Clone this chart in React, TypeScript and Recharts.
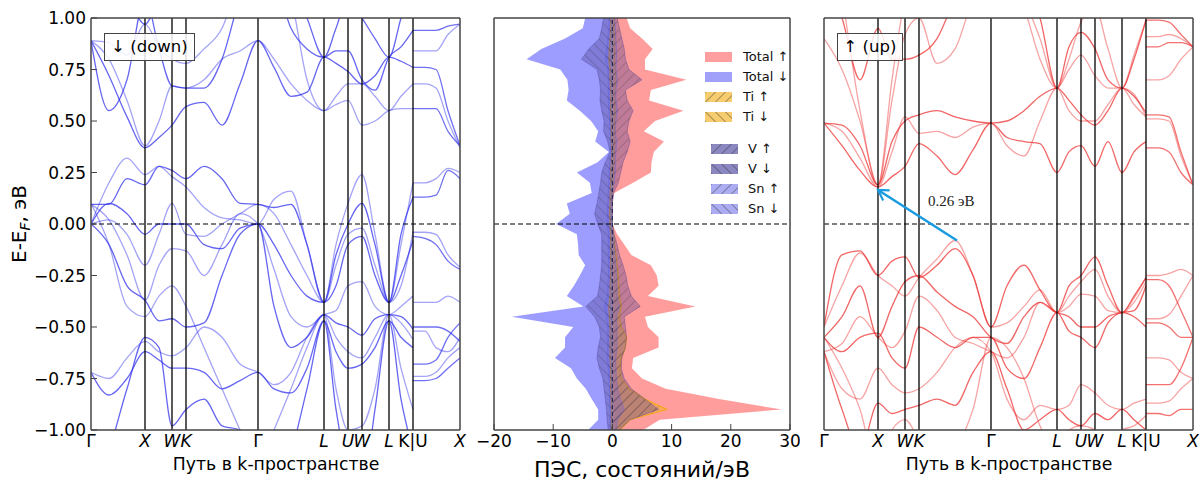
import React from "react";
import { Area, ComposedChart, Line, LineChart, ReferenceLine, XAxis, YAxis } from "recharts";

// k-path (in panel units) and labels
const kGrid = [0, 18, 36, 54, 68, 81, 95, 113, 131, 149, 167, 183, 200, 216, 233, 245, 257, 271, 284, 298, 310, 322];
const kGridUX = [322, 334, 345, 357, 369];
const kTicks = [0, 54, 81, 95, 167, 233, 257, 271, 298, 322, 369];
const kLabels = ["Γ", "X", "W", "K", "Γ", "L", "U", "W", "L", "K|U", "X"];
const energyTicks = [-1, -0.75, -0.5, -0.25, 0, 0.25, 0.5, 0.75, 1];

// spin down bands, Γ-X-W-K-Γ-L-U-W-L-K
const downBands = [
  [0.89, 0.72, 0.52, 0.37, 0.42, 0.48, 0.57, 0.59, 0.48, 0.68, 0.89, 0.76, 0.62, 0.64, 0.81, 0.78, 0.74, 0.68, 0.72, 0.81, 0.79, 0.76],
  [0.89, 0.8, 0.6, 0.38, 0.5, 0.67, 0.66, 0.7, 0.8, 0.84, 0.89, 0.8, 0.68, 0.6, 0.55, 0.58, 0.6, 0.48, 0.5, 0.55, 0.56, 0.56],
  [0.89, 0.55, 0.7, 1.1, 0.85, 0.67, 0.66, 0.66, 0.8, 1.1, 1.3, 1.2, 0.95, 0.85, 0.81, 0.84, 0.84, 0.7, 0.65, 0.81, 0.86, 0.94],
  [0.89, 0.88, 0.82, 0.97, 0.86, 0.8, 0.78, 0.85, 0.95, 1.2, 1.4, 1.3, 1.1, 0.7, 0.55, 0.62, 0.68, 0.68, 0.62, 0.55, 0.62, 0.68],
  [1.3, 1.2, 1.1, 0.97, 1.1, 1.2, 1.3, 1.4, 1.5, 1.5, 1.5, 1.4, 1.2, 1.0, 0.81, 0.95, 1.1, 1.0, 0.9, 0.81, 1.0, 1.2],
  [0.0, 0.2, 0.32, 0.24, 0.28, 0.23, 0.18, 0.08, 0.03, 0.02, 0.0, 0.12, 0.16, -0.1, -0.38, -0.1, 0.1, 0.24, -0.05, -0.38, -0.1, 0.2],
  [0.095, 0.095, 0.22, 0.19, 0.28, 0.26, 0.22, 0.28, 0.22, 0.1, 0.095, 0.08, 0.095, -0.1, -0.38, -0.15, 0.0, 0.1, -0.1, -0.38, -0.05, 0.13],
  [0.0, 0.02, -0.05, -0.2, -0.05, 0.1, -0.05, -0.06, 0.0, 0.05, 0.095, 0.05, -0.1, -0.25, -0.38, -0.2, -0.05, -0.02, -0.2, -0.38, -0.3, -0.04],
  [0.0, 0.1, 0.05, -0.05, 0.0, 0.0, 0.0, -0.1, -0.12, -0.02, 0.0, -0.1, -0.25, -0.35, -0.38, -0.3, -0.1, -0.06, -0.25, -0.38, -0.25, -0.08],
  [0.095, 0.02, -0.15, -0.37, -0.2, -0.12, -0.13, -0.25, -0.1, 0.05, 0.0, -0.22, -0.45, -0.5, -0.44, -0.42, -0.3, -0.28, -0.4, -0.44, -0.4, -0.35],
  [0.0, -0.1, -0.3, -0.37, -0.47, -0.46, -0.5, -0.48, -0.25, -0.05, 0.0, -0.4, -0.6, -0.55, -0.44, -0.48, -0.5, -0.54, -0.46, -0.44, -0.45, -0.51],
  [-0.72, -0.75, -0.65, -0.57, -0.62, -0.64, -0.6, -0.5, -0.55, -0.68, -0.72, -0.78, -0.72, -0.55, -0.44, -0.55, -0.62, -0.65, -0.55, -0.44, -0.48, -0.56],
  [-0.72, -0.83, -0.75, -0.62, -0.66, -0.7, -0.7, -0.72, -0.8, -0.76, -0.72, -0.8, -0.82, -0.7, -0.47, -0.62, -0.7, -0.68, -0.6, -0.47, -0.55, -0.6],
  [0.1, -0.1, -0.4, -0.45, -0.35, -0.3, -0.4, -0.6, -0.8, -1.0, -1.2, -1.0, -0.8, -0.6, -0.44, -0.8, -1.0, -0.98, -0.8, -0.44, -0.7, -0.9],
  [-1.3, -1.1, -0.8, -0.55, -0.6, -0.98, -0.9, -0.85, -0.98, -1.0, -1.1, -1.2, -1.1, -0.8, -0.47, -0.9, -1.2, -1.3, -0.9, -0.47, -0.85, -1.1],
];

// spin down, U-X segment
const downBandsUX = [
  [0.94, 0.94, 0.94, 0.96, 0.97],
  [0.84, 0.84, 0.84, 0.92, 0.97],
  [0.76, 0.76, 0.75, 0.55, 0.38],
  [0.68, 0.68, 0.66, 0.5, 0.37],
  [0.56, 0.56, 0.56, 0.45, 0.38],
  [0.2, 0.2, 0.22, 0.27, 0.25],
  [0.13, 0.13, 0.14, 0.26, 0.22],
  [-0.04, -0.04, -0.05, -0.15, -0.21],
  [-0.06, -0.07, -0.1, -0.18, -0.22],
  [-0.38, -0.38, -0.38, -0.35, -0.38],
  [-0.5, -0.5, -0.5, -0.52, -0.57],
  [-0.52, -0.52, -0.6, -0.62, -0.55],
  [-0.68, -0.68, -0.66, -0.55, -0.48],
  [-0.74, -0.74, -0.72, -0.65, -0.6],
  [-0.76, -0.76, -0.75, -0.7, -0.65],
];

// spin up bands
const upBands = [
  [0.49, 0.38, 0.26, 0.18, 0.23, 0.28, 0.39, 0.33, 0.24, 0.36, 0.49, 0.42, 0.4, 0.39, 0.25, 0.35, 0.38, 0.28, 0.4, 0.25, 0.35, 0.4],
  [0.49, 0.45, 0.32, 0.18, 0.35, 0.52, 0.44, 0.45, 0.42, 0.47, 0.49, 0.38, 0.33, 0.5, 0.66, 0.55, 0.5, 0.5, 0.58, 0.66, 0.58, 0.52],
  [0.49, 0.48, 0.38, 0.19, 0.4, 0.5, 0.53, 0.55, 0.52, 0.5, 0.49, 0.5, 0.55, 0.62, 0.66, 0.6, 0.53, 0.48, 0.55, 0.66, 0.62, 0.54],
  [0.9, 0.75, 0.5, 0.19, 0.6, 0.92, 1.0, 0.78, 0.85, 1.1, 1.3, 1.2, 1.05, 0.8, 0.66, 0.75, 0.82, 0.72, 0.66, 0.66, 0.63, 0.52],
  [1.2, 1.0, 0.7, 0.95, 0.8, 0.8, 0.82, 0.9, 1.1, 1.3, 1.5, 1.4, 1.2, 1.0, 0.66, 0.86, 0.93, 0.85, 0.7, 0.66, 0.8, 0.99],
  [1.5, 1.1, 0.55, 0.19, 0.7, 1.1, 1.3, 1.3, 1.4, 1.4, 1.4, 1.3, 1.1, 0.9, 0.66, 0.8, 0.98, 1.05, 0.85, 0.66, 0.82, 0.99],
  [-0.5, -0.15, -0.13, -0.25, -0.18, -0.16, -0.26, -0.2, -0.12, -0.25, -0.5, -0.3, -0.2, -0.32, -0.43, -0.3, -0.25, -0.16, -0.3, -0.43, -0.35, -0.26],
  [-0.5, -0.3, -0.14, -0.25, -0.3, -0.35, -0.26, -0.17, -0.08, -0.25, -0.5, -0.48, -0.4, -0.32, -0.43, -0.35, -0.28, -0.22, -0.35, -0.43, -0.38, -0.28],
  [-0.55, -0.45, -0.3, -0.55, -0.4, -0.28, -0.25, -0.33, -0.4, -0.45, -0.55, -0.58, -0.45, -0.38, -0.43, -0.45, -0.5, -0.5, -0.45, -0.43, -0.42, -0.3],
  [-0.62, -0.58, -0.45, -0.55, -0.6, -0.52, -0.35, -0.42, -0.55, -0.58, -0.62, -0.65, -0.55, -0.38, -0.43, -0.4, -0.34, -0.35, -0.42, -0.43, -0.36, -0.26],
  [-0.55, -0.62, -0.55, -0.53, -0.65, -0.7, -0.5, -0.55, -0.6, -0.55, -0.55, -0.7, -0.75, -0.6, -0.43, -0.52, -0.55, -0.6, -0.48, -0.43, -0.45, -0.5],
  [-0.62, -0.8, -0.85, -0.7, -0.78, -0.82, -0.8, -0.72, -0.6, -0.55, -0.62, -0.85, -0.95, -0.88, -0.9, -0.88, -0.78, -0.82, -0.88, -0.9, -0.87, -0.85],
  [-0.62, -0.9, -1.1, -0.87, -0.92, -0.9, -0.88, -0.85, -0.88, -0.72, -0.62, -0.8, -1.0, -0.95, -0.9, -0.95, -0.98, -0.92, -0.95, -0.9, -0.95, -1.0],
  [-0.55, -0.7, -0.9, -1.2, -1.0, -0.95, -1.05, -1.2, -1.1, -0.9, -0.55, -0.6, -0.75, -0.98, -1.1, -1.0, -0.98, -1.0, -1.1, -1.0, -0.98, -0.93],
];

const upBandsUX = [
  [0.99, 0.99, 0.98, 0.92, 0.86],
  [0.91, 0.91, 0.92, 0.9, 0.86],
  [0.86, 0.86, 0.88, 0.88, 0.86],
  [0.7, 0.7, 0.72, 0.8, 0.86],
  [0.53, 0.53, 0.52, 0.35, 0.19],
  [0.51, 0.51, 0.5, 0.33, 0.19],
  [0.37, 0.37, 0.35, 0.25, 0.19],
  [-0.25, -0.25, -0.24, -0.22, -0.25],
  [-0.27, -0.27, -0.3, -0.42, -0.55],
  [-0.46, -0.46, -0.44, -0.35, -0.25],
  [-0.48, -0.48, -0.5, -0.55, -0.55],
  [-0.65, -0.65, -0.66, -0.72, -0.75],
  [-0.78, -0.78, -0.78, -0.7, -0.55],
  [-0.87, -0.87, -0.86, -0.8, -0.75],
  [-0.92, -0.92, -0.93, -0.9, -0.9],
];

// band gap arrow: VBM -> CBM at X
const gapFrom = { k: 133, e: -0.08 };
const gapTo = { k: 54, e: 0.165 };

// DOS (states/eV), energies from +1 to -1
const dosEnergy = [
  1.0, 0.95, 0.9, 0.85, 0.8, 0.75, 0.7, 0.65, 0.6, 0.55, 0.5, 0.45, 0.4, 0.35, 0.3, 0.25, 0.2, 0.15, 0.1, 0.05, 0.0,
  -0.05, -0.1, -0.15, -0.2, -0.25, -0.3, -0.35, -0.4, -0.45, -0.5, -0.55, -0.6, -0.65, -0.7, -0.75, -0.8, -0.85, -0.9, -0.95, -1.0,
];
const totalUp = [2.4, 3.0, 5.0, 6.8, 5.5, 5.5, 12.5, 6.5, 6.2, 12.0, 7.2, 5.3, 8.7, 7.0, 6.6, 6.5, 3.5, 0.3, 0, 0, 0, 0.8, 2.0, 3.2, 6.5, 7.5, 7.8, 6.0, 14.0, 5.5, 6.0, 7.8, 7.8, 3.5, 3.3, 5.0, 9.0, 18.0, 28.6, 8.0, 5.2];
const totalDown = [-4.6, -5.0, -8.0, -12.0, -14.5, -8.8, -7.6, -7.4, -7.7, -5.5, -3.6, -2.4, -2.9, -0.6, -2.5, -6.0, -3.8, -3.5, -7.7, -7.2, -9.5, -6.0, -5.8, -5.7, -4.6, -5.5, -6.5, -7.7, -4.9, -17.0, -6.6, -8.0, -8.0, -9.7, -7.0, -6.0, -4.5, -3.5, -2.4, -2.4, -4.1];
const tiUp = [0.3, 0.3, 0.4, 0.4, 0.4, 0.5, 0.6, 0.4, 0.4, 0.5, 0.4, 0.4, 0.4, 0.3, 0.3, 0.2, 0.1, 0, 0, 0, 0, 0.2, 0.4, 0.6, 0.8, 1.0, 1.1, 1.2, 1.5, 1.2, 1.5, 2.4, 2.2, 1.5, 1.3, 1.5, 2.8, 5.5, 9.2, 3.0, 1.2];
const tiDown = [-0.3, -0.3, -0.4, -0.5, -0.6, -0.4, -0.4, -0.3, -0.3, -0.3, -0.2, -0.2, -0.2, -0.1, -0.2, -0.3, -0.3, -0.4, -0.4, -0.5, -0.4, -0.3, -0.3, -0.3, -0.3, -0.3, -0.4, -0.4, -0.6, -0.5, -0.4, -0.4, -0.4, -0.4, -0.3, -0.3, -0.3, -0.2, -0.2, -0.2, -0.2];
const vUp = [0.8, 1.2, 1.6, 2.0, 2.2, 2.8, 5.0, 2.2, 2.5, 3.5, 2.8, 2.5, 3.0, 2.5, 1.8, 1.4, 1.0, 0.2, 0, 0, 0, 0.3, 0.8, 1.2, 1.8, 2.3, 2.6, 3.2, 4.7, 2.0, 2.2, 2.4, 2.2, 1.6, 1.5, 2.0, 3.2, 5.5, 7.8, 3.0, 1.2];
const vDown = [-1.5, -1.8, -2.2, -4.0, -5.2, -2.6, -2.2, -2.0, -2.1, -1.8, -1.4, -1.5, -0.8, -0.4, -1.2, -1.8, -2.0, -2.3, -2.6, -3.0, -2.5, -1.8, -1.8, -1.8, -1.8, -2.0, -2.2, -2.5, -4.5, -3.0, -2.2, -2.0, -2.4, -2.6, -2.2, -1.6, -1.4, -1.2, -1.0, -0.9, -0.7];
const snUp = [0.4, 0.5, 0.6, 0.7, 0.7, 0.6, 0.9, 0.6, 0.6, 0.9, 0.6, 0.5, 0.7, 0.6, 0.5, 0.5, 0.3, 0, 0, 0, 0, 0.2, 0.3, 0.4, 0.6, 0.7, 0.8, 0.8, 1.2, 0.7, 0.8, 0.8, 0.8, 0.6, 0.6, 0.7, 0.9, 1.4, 2.0, 0.9, 0.6];
const snDown = [-0.5, -0.6, -0.8, -1.0, -1.2, -0.8, -0.7, -0.7, -0.7, -0.6, -0.5, -0.4, -0.4, -0.2, -0.4, -0.6, -0.6, -0.7, -0.8, -0.9, -0.9, -0.7, -0.7, -0.7, -0.6, -0.7, -0.8, -0.9, -1.4, -1.0, -0.8, -0.8, -0.8, -0.9, -0.7, -0.6, -0.5, -0.5, -0.4, -0.4, -0.4];
const dosTicks = [-20, -10, 0, 10, 20, 30];

const FONT = "DejaVu Sans, sans-serif";
const SPINE = "#444";

const dosRows = dosEnergy.map((e, i) => ({
  e,
  totalUp: totalUp[i],
  totalDown: totalDown[i],
  tiUp: tiUp[i],
  tiDown: tiDown[i],
  vUp: vUp[i],
  vDown: vDown[i],
  snUp: snUp[i],
  snDown: snDown[i],
}));

const toRows = (ks: number[], es: number[]) => ks.map((k, i) => ({ k, e: es[i] }));
const fmtE = (v: number) => (v < 0 ? "\u2212" + Math.abs(v).toFixed(2) : v.toFixed(2));
const fmtN = (v: number) => (v < 0 ? "\u2212" + Math.abs(v) : String(v));

function KTick(props: any) {
  const { x, y, payload } = props;
  const label = kLabels[kTicks.indexOf(payload.value)];
  const upright = label === "Γ" || label === "K|U";
  return (
    <text x={x} y={y} dy="0.71em" textAnchor="middle" fill="#000" fontSize={17} fontFamily={FONT} fontStyle={upright ? "normal" : "italic"}>
      {label}
    </text>
  );
}

function BandPanel(props: {
  left: number;
  width: number;
  yWidth: number;
  marginLeft: number;
  bands: number[][];
  bandsUX: number[][];
  color: string;
  labels: boolean;
  arrow?: boolean;
}) {
  const { left, width, yWidth, marginLeft, bands, bandsUX, color, labels, arrow } = props;
  return (
    <div style={{ position: "absolute", left, top: 0 }}>
      <LineChart width={width} height={483} margin={{ top: 17, right: 9, bottom: 0, left: marginLeft }}>
        <defs>
          <marker id="arrowHead" markerWidth="14" markerHeight="14" refX="11" refY="7" orient="auto" markerUnits="userSpaceOnUse">
            <path d="M1,1 L11,7 L1,13" fill="none" stroke="#1a9be0" strokeWidth="2.2" />
          </marker>
        </defs>
        <XAxis
          dataKey="k"
          type="number"
          domain={[0, 369]}
          ticks={kTicks}
          interval={0}
          allowDataOverflow
          tick={<KTick />}
          tickLine={false}
          tickSize={0}
          tickMargin={5}
          height={53}
          axisLine={{ stroke: SPINE, strokeWidth: 1.5 }}
        />
        <XAxis xAxisId="top" orientation="top" type="number" domain={[0, 369]} height={1} tick={false} tickLine={false} axisLine={{ stroke: SPINE, strokeWidth: 1.5 }} />
        <YAxis
          type="number"
          domain={[-1, 1]}
          ticks={energyTicks}
          interval={0}
          allowDataOverflow
          width={yWidth}
          tick={labels ? { fill: "#000", fontSize: 17, fontFamily: FONT } : false}
          tickFormatter={fmtE}
          tickSize={-6}
          tickMargin={11}
          tickLine={{ stroke: SPINE }}
          axisLine={{ stroke: SPINE, strokeWidth: 1.5 }}
        />
        <YAxis
          yAxisId="r"
          orientation="right"
          type="number"
          domain={[-1, 1]}
          ticks={energyTicks}
          interval={0}
          width={1}
          tick={false}
          tickSize={-6}
          tickLine={{ stroke: SPINE }}
          axisLine={{ stroke: SPINE, strokeWidth: 1.5 }}
        />
        {bands.map((b, i) => (
          <Line
            key={"a" + i}
            data={toRows(kGrid, b)}
            dataKey="e"
            type="monotone"
            stroke={color}
            strokeOpacity={i % 2 ? 0.45 : 0.75}
            strokeWidth={1.3}
            dot={false}
            activeDot={false}
            isAnimationActive={false}
          />
        ))}
        {bandsUX.map((b, i) => (
          <Line
            key={"b" + i}
            data={toRows(kGridUX, b)}
            dataKey="e"
            type="monotone"
            stroke={color}
            strokeOpacity={i % 2 ? 0.45 : 0.7}
            strokeWidth={1.3}
            dot={false}
            activeDot={false}
            isAnimationActive={false}
          />
        ))}
        {kTicks.slice(1, -1).map((k) => (
          <ReferenceLine key={"k" + k} x={k} stroke="#000" strokeWidth={1.3} />
        ))}
        <ReferenceLine y={0} stroke="#000" strokeWidth={1.2} strokeDasharray="5 3" />
        {arrow && (
          <ReferenceLine
            segment={[
              { x: gapFrom.k, y: gapFrom.e },
              { x: gapTo.k, y: gapTo.e },
            ]}
            stroke="#1a9be0"
            strokeWidth={2.5}
            shape={(p: any) => (
              <line x1={p.x1} y1={p.y1} x2={p.x2} y2={p.y2} stroke="#1a9be0" strokeWidth={2.5} markerEnd="url(#arrowHead)" />
            )}
          />
        )}
      </LineChart>
    </div>
  );
}

function Hatch({ id, color, opacity, angle }: { id: string; color: string; opacity: number; angle: number }) {
  return (
    <pattern id={id} patternUnits="userSpaceOnUse" width="7" height="7" patternTransform={`rotate(${angle})`}>
      <rect width="7" height="7" fill={color} fillOpacity={opacity} />
      <line x1="0" y1="0" x2="0" y2="7" stroke="#222" strokeOpacity="0.4" strokeWidth="1" />
    </pattern>
  );
}

function DosPanel() {
  return (
    <div style={{ position: "absolute", left: 470, top: 0 }}>
      <ComposedChart layout="vertical" width={330} height={483} data={dosRows} margin={{ top: 17, right: 9, bottom: 0, left: 23 }}>
        <defs>
          <Hatch id="tiUpH" color="#f5b430" opacity={0.5} angle={45} />
          <Hatch id="tiDownH" color="#f5b430" opacity={0.5} angle={-45} />
          <Hatch id="vUpH" color="#483d8b" opacity={0.35} angle={45} />
          <Hatch id="vDownH" color="#483d8b" opacity={0.35} angle={-45} />
          <Hatch id="snUpH" color="#5c5ce6" opacity={0.25} angle={45} />
          <Hatch id="snDownH" color="#5c5ce6" opacity={0.25} angle={-45} />
        </defs>
        <XAxis
          type="number"
          domain={[-20, 30]}
          ticks={dosTicks}
          interval={0}
          height={53}
          tick={{ fill: "#000", fontSize: 17, fontFamily: FONT }}
          tickFormatter={fmtN}
          tickSize={-6}
          tickMargin={11}
          tickLine={{ stroke: SPINE }}
          axisLine={{ stroke: SPINE, strokeWidth: 1.5 }}
        />
        <XAxis
          xAxisId="top"
          orientation="top"
          type="number"
          domain={[-20, 30]}
          ticks={dosTicks}
          interval={0}
          height={1}
          tick={false}
          tickSize={-6}
          tickLine={{ stroke: SPINE }}
          axisLine={{ stroke: SPINE, strokeWidth: 1.5 }}
        />
        <YAxis type="number" dataKey="e" domain={[-1, 1]} reversed width={1} tick={false} tickLine={false} axisLine={{ stroke: SPINE, strokeWidth: 1.5 }} />
        <YAxis yAxisId="r" orientation="right" type="number" domain={[-1, 1]} width={1} tick={false} tickLine={false} axisLine={{ stroke: SPINE, strokeWidth: 1.5 }} />
        <Area dataKey="totalUp" type="linear" stroke="none" fill="#ff3b3b" fillOpacity={0.5} isAnimationActive={false} />
        <Area dataKey="totalDown" type="linear" stroke="none" fill="#3b3bff" fillOpacity={0.5} isAnimationActive={false} />
        <Area dataKey="tiUp" type="linear" stroke="#f5a623" strokeWidth={1.2} fill="url(#tiUpH)" fillOpacity={1} isAnimationActive={false} />
        <Area dataKey="tiDown" type="linear" stroke="#f5a623" strokeWidth={1.2} fill="url(#tiDownH)" fillOpacity={1} isAnimationActive={false} />
        <Area dataKey="vUp" type="linear" stroke="#483d8b" strokeOpacity={0.35} fill="url(#vUpH)" fillOpacity={1} isAnimationActive={false} />
        <Area dataKey="vDown" type="linear" stroke="#483d8b" strokeOpacity={0.35} fill="url(#vDownH)" fillOpacity={1} isAnimationActive={false} />
        <Area dataKey="snUp" type="linear" stroke="#5c5ce6" strokeOpacity={0.35} fill="url(#snUpH)" fillOpacity={1} isAnimationActive={false} />
        <Area dataKey="snDown" type="linear" stroke="#5c5ce6" strokeOpacity={0.35} fill="url(#snDownH)" fillOpacity={1} isAnimationActive={false} />
        <ReferenceLine x={0} stroke="#2a2a5a" strokeWidth={1.2} strokeDasharray="4 3" />
        <ReferenceLine y={0} stroke="#000" strokeWidth={1.2} strokeDasharray="5 3" />
      </ComposedChart>
    </div>
  );
}

function Swatch({ fill, angle }: { fill: string; angle?: number }) {
  const id = "sw" + fill.slice(1) + (angle ?? "n");
  return (
    <svg width={27} height={10} style={{ display: "block" }}>
      {angle !== undefined && (
        <defs>
          <pattern id={id} patternUnits="userSpaceOnUse" width="7" height="7" patternTransform={`rotate(${angle})`}>
            <rect width="7" height="7" fill={fill} />
            <line x1="0" y1="0" x2="0" y2="7" stroke="#222" strokeOpacity="0.75" strokeWidth="1.1" />
          </pattern>
        </defs>
      )}
      <rect width={27} height={10} fill={angle !== undefined ? `url(#${id})` : fill} />
    </svg>
  );
}

const legendRows = [
  { label: "Total \u2191", fill: "#ff9e9e", angle: undefined, cy: 57, sx: 705, tx: 743 },
  { label: "Total \u2193", fill: "#a0a0fb", angle: undefined, cy: 77, sx: 705, tx: 743 },
  { label: "Ti \u2191", fill: "#f6cc6f", angle: 45, cy: 97, sx: 705, tx: 743 },
  { label: "Ti \u2193", fill: "#f6cc6f", angle: -45, cy: 117, sx: 705, tx: 743 },
  { label: "V \u2191", fill: "#8b87c0", angle: 45, cy: 149, sx: 711, tx: 748 },
  { label: "V \u2193", fill: "#8b87c0", angle: -45, cy: 169, sx: 711, tx: 748 },
  { label: "Sn \u2191", fill: "#acacf2", angle: 45, cy: 189, sx: 711, tx: 748 },
  { label: "Sn \u2193", fill: "#acacf2", angle: -45, cy: 209, sx: 711, tx: 748 },
];

const boxStyle: React.CSSProperties = {
  position: "absolute",
  top: 33,
  height: 26,
  border: "1px solid #444",
  background: "rgba(255,255,255,0.85)",
  fontFamily: FONT,
  fontSize: 16.5,
  lineHeight: "26px",
  textAlign: "center",
  whiteSpace: "nowrap",
};

const titleStyle: React.CSSProperties = {
  position: "absolute",
  fontFamily: FONT,
  whiteSpace: "nowrap",
  transform: "translate(-50%, -50%)",
  color: "#000",
};

export default function App() {
  return (
    <div style={{ position: "absolute", left: 0, top: 0, width: 1203, height: 483, background: "#fff", overflow: "hidden" }}>
      <BandPanel left={0} width={470} yWidth={91} marginLeft={0} bands={downBands} bandsUX={downBandsUX} color="#3333ee" labels />
      <DosPanel />
      <BandPanel left={800} width={403} yWidth={1} marginLeft={23} bands={upBands} bandsUX={upBandsUX} color="#ee3333" labels={false} arrow />

      <div style={{ ...boxStyle, left: 104, width: 89 }}>{"\u2193 (down)"}</div>
      <div style={{ ...boxStyle, left: 837, width: 64 }}>{"\u2191 (up)"}</div>

      <div style={{ position: "absolute", left: 928, top: 193, fontFamily: "Liberation Serif, serif", fontSize: 15, color: "#222" }}>0.26 эВ</div>

      <div style={{ ...titleStyle, left: 20, top: 224, fontSize: 20, transform: "translate(-50%, -50%) rotate(-90deg)" }}>
        E-E<sub style={{ fontStyle: "italic", fontSize: "0.7em", verticalAlign: "-0.25em" }}>F</sub>, эВ
      </div>
      <div style={{ ...titleStyle, left: 276, top: 464, fontSize: 17.3 }}>Путь в k-пространстве</div>
      <div style={{ ...titleStyle, left: 1009, top: 464, fontSize: 17.3 }}>Путь в k-пространстве</div>
      <div style={{ ...titleStyle, left: 642, top: 469, fontSize: 22 }}>ПЭС, состояний/эВ</div>

      {legendRows.map((r) => (
        <React.Fragment key={r.label}>
          <div style={{ position: "absolute", left: r.sx, top: r.cy - 5 }}>
            <Swatch fill={r.fill} angle={r.angle} />
          </div>
          <div style={{ position: "absolute", left: r.tx, top: r.cy - 9, fontFamily: FONT, fontSize: 13, lineHeight: "18px", color: "#111" }}>{r.label}</div>
        </React.Fragment>
      ))}
    </div>
  );
}
